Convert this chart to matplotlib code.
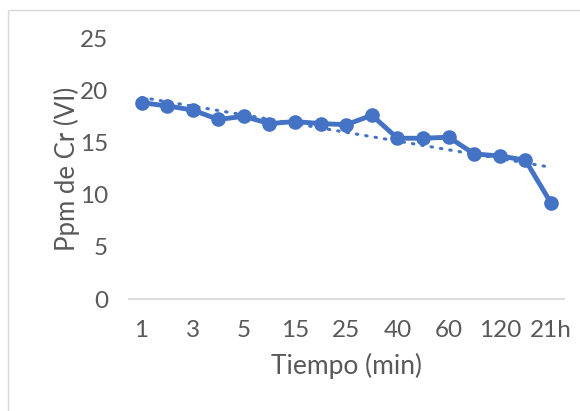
import numpy as np
import matplotlib.pyplot as plt
from matplotlib.patches import Rectangle

# tiempo (categorias) y concentracion de Cr(VI)
tiempo = ['1', '2', '3', '4', '5', '10', '15', '20', '25', '30',
          '40', '50', '60', '90', '120', '180', '21h']
ppm = [18.8, 18.5, 18.1, 17.2, 17.5, 16.8, 17.0, 16.8, 16.7, 17.6,
       15.4, 15.4, 15.5, 13.9, 13.7, 13.3, 9.2]

plt.rcParams['font.family'] = ['Lato', 'DejaVu Sans']
gris = '#595959'
azul = '#4472C4'

fig = plt.figure(figsize=(5.8, 4.11), dpi=100)
fig.patches.append(Rectangle((8/580, -0.1), 1.2, 1 - 10/411 + 0.1,
                             transform=fig.transFigure, fill=False,
                             edgecolor='#d9d9d9', linewidth=1))
ax = fig.add_axes([0.222, 0.2725, 0.75, 0.635])

x = np.arange(len(ppm))
ax.plot(x, ppm, color=azul, linewidth=3.5, marker='o', markersize=9.5,
        solid_joinstyle='round', zorder=3)

# linea de tendencia lineal (como la de Excel)
m, b = np.polyfit(x, ppm, 1)
ax.plot(x, m*x + b, color=azul, linewidth=2.2, linestyle=(0, (0.5, 2.6)),
        dash_capstyle='round', zorder=2)

ax.set_xlim(-0.5, len(ppm) - 0.5)
ax.set_ylim(0, 25)
ax.set_yticks(range(0, 30, 5))
ax.set_xticks(x[::2])
ax.set_xticklabels(tiempo[::2])

for s in ['top', 'right', 'left']:
    ax.spines[s].set_visible(False)
ax.spines['bottom'].set_color('#d9d9d9')
ax.spines['bottom'].set_linewidth(1.3)
ax.tick_params(axis='both', length=0, colors=gris, labelsize=17.5)
ax.tick_params(axis='y', pad=15)
ax.tick_params(axis='x', pad=15)

ax.set_xlabel('Tiempo (min)', color=gris, fontsize=19, labelpad=9)
ax.set_ylabel('Ppm de Cr (VI)', color=gris, fontsize=18.5, labelpad=0)

fig.savefig('out.png', dpi=100)
